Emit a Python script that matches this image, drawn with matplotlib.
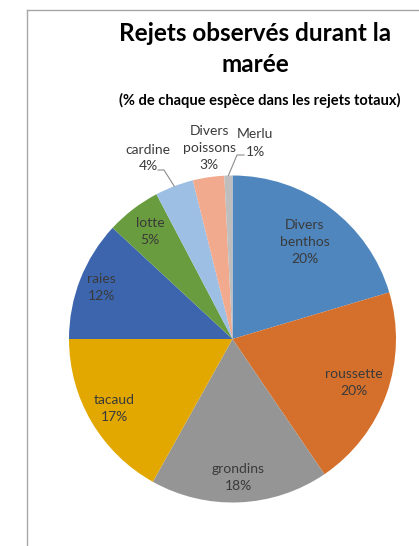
import numpy as np
import matplotlib.pyplot as plt

plt.rcParams['font.family'] = ['Lato', 'DejaVu Sans']

# parts des espèces dans les rejets (%)
especes = ['Divers\nbenthos', 'roussette', 'grondins', 'tacaud', 'raies',
           'lotte', 'cardine', 'Divers\npoissons', 'Merlu']
parts = [20.4, 20.1, 17.6, 16.9, 11.9, 5.4, 3.8, 3.1, 0.8]
couleurs = ['#4F86BE', '#D5702C', '#959595', '#E2A800', '#3C65AE',
            '#699C3E', '#9DBFE4', '#F1AA8D', '#BEBEBE']

W, H = 419, 546
fig = plt.figure(figsize=(W / 100, H / 100), dpi=100)
ax = fig.add_axes([0, 0, 1, 1])

cx, cy, R = 232.5, H - 339, 163.5
wedges, _ = ax.pie(parts, colors=couleurs, startangle=90, counterclock=False,
                   center=(cx, cy), radius=R,
                   wedgeprops=dict(linewidth=0))
ax.set_xlim(0, W)
ax.set_ylim(0, H)
ax.set_aspect('equal')
ax.axis('off')

txt = '#3A3A3A'
fs = 10
ls = 1.5
# étiquettes intérieures
dist = [0.74, 0.79, 0.85, 0.84, 0.86, 0.83]
for i, d in enumerate(dist):
    w = wedges[i]
    a = np.deg2rad((w.theta1 + w.theta2) / 2)
    x, y = cx + d * R * np.cos(a), cy + d * R * np.sin(a)
    ax.text(x, y, f"{especes[i]}\n{parts[i]:.0f}%", ha='center', va='center',
            fontsize=fs, color=txt, linespacing=ls)

# étiquettes extérieures (petites parts)
def bord(i):
    w = wedges[i]
    a = np.deg2rad((w.theta1 + w.theta2) / 2)
    return cx + R * np.cos(a), cy + R * np.sin(a)

# cardine
ax.text(148, H - 158, f"{especes[6]}\n{parts[6]:.0f}%", ha='center', va='center',
        fontsize=fs, color=txt, linespacing=ls)
bx, by = bord(6)
ax.plot([158, 164, bx], [H - 170, H - 170, by], color='#8C8C8C', lw=0.8)

# Divers poissons
ax.text(209, H - 148, f"{especes[7]}\n{parts[7]:.0f}%", ha='center', va='center',
        fontsize=fs, color=txt, linespacing=ls)

# Merlu
ax.text(255, H - 143, f"{especes[8]}\n{parts[8]:.0f}%", ha='center', va='center',
        fontsize=fs, color=txt, linespacing=ls)
bx, by = bord(8)
ax.plot([244, 237, bx], [H - 155, H - 155, by], color='#8C8C8C', lw=0.8)

# titres
ax.text(255, H - 49, "Rejets observés durant la\nmarée", ha='center', va='center',
        fontsize=17.5, fontweight='bold', color='black', linespacing=1.4)
ax.text(260, H - 100, "(% de chaque espèce dans les rejets totaux)", ha='center',
        va='center', fontsize=10.5, fontweight='bold', color='black')

# cadre du graphique
ax.plot([27, W], [H - 10, H - 10], color='#A6A6A6', lw=1)
ax.plot([27, 27], [H - 10, 0], color='#A6A6A6', lw=1)

fig.savefig('out.png', dpi=100)
